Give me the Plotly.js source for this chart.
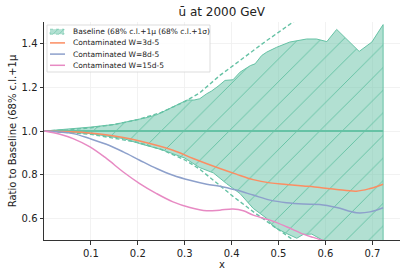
<!DOCTYPE html>
<html>
<head>
<meta charset="utf-8">
<script src="https://cdn.plot.ly/plotly-3.0.1.min.js"></script>
<style>html,body{margin:0;padding:0;background:#fff;}#chart{width:407px;height:277px;}</style>
</head>
<body>
<div id="chart"></div>
<script>
// Baseline band (68% c.l. + 1mu)
const upperX = [0.001,0.05,0.1,0.15,0.19,0.22,0.241,0.26,0.275,0.294,0.305,0.32,0.332,0.347,0.357,0.371,0.386,0.403,0.418,0.44,0.45,0.464,0.475,0.496,0.524,0.56,0.581,0.603,0.624,0.672,0.699,0.723];
const upperY = [1.0,1.008,1.018,1.03,1.048,1.062,1.075,1.095,1.11,1.13,1.142,1.142,1.148,1.171,1.183,1.205,1.232,1.235,1.27,1.30,1.308,1.346,1.362,1.384,1.408,1.422,1.422,1.41,1.466,1.365,1.408,1.488];
const lowerX = [0.001,0.05,0.1,0.17,0.204,0.25,0.283,0.30,0.332,0.361,0.389,0.418,0.446,0.475,0.489,0.517,0.539,0.553,0.571,0.588,0.61,0.65,0.7,0.723];
const lowerY = [1.0,0.995,0.988,0.965,0.942,0.915,0.889,0.876,0.832,0.808,0.759,0.713,0.645,0.599,0.561,0.530,0.508,0.526,0.527,0.508,0.48,0.44,0.40,0.38];
// 68% c.l. + 1 sigma (dashed)
const sigUpX = [0.001,0.05,0.1,0.15,0.2,0.25,0.3,0.332,0.375,0.403,0.446,0.475,0.531,0.6,0.723];
const sigUpY = [1.0,1.005,1.015,1.03,1.052,1.085,1.135,1.175,1.255,1.30,1.37,1.415,1.5,1.6,1.8];
const sigLoX = [0.001,0.1,0.2,0.25,0.3,0.332,0.375,0.403,0.446,0.475,0.528,0.6,0.723];
const sigLoY = [1.0,0.985,0.948,0.915,0.868,0.825,0.75,0.70,0.63,0.585,0.505,0.4,0.2];
// Central baseline
const centralX = [0.001,0.723];
const centralY = [1.0,1.0];
// Contaminated fits
const w3X = [0.001,0.098,0.169,0.204,0.275,0.318,0.375,0.41,0.446,0.482,0.517,0.553,0.588,0.624,0.666,0.695,0.723];
const w3Y = [1.0,0.991,0.97,0.954,0.912,0.874,0.828,0.802,0.777,0.762,0.755,0.748,0.741,0.732,0.724,0.736,0.756];
const w8X = [0.001,0.062,0.098,0.133,0.169,0.204,0.24,0.275,0.311,0.347,0.375,0.41,0.446,0.482,0.517,0.553,0.588,0.624,0.666,0.695,0.723];
const w8Y = [1.0,0.988,0.965,0.939,0.904,0.866,0.828,0.797,0.774,0.756,0.747,0.729,0.706,0.683,0.671,0.665,0.663,0.649,0.625,0.629,0.648];
const w15X = [0.001,0.034,0.062,0.098,0.133,0.169,0.204,0.24,0.275,0.311,0.347,0.375,0.403,0.425,0.446,0.482,0.517,0.553,0.574,0.6,0.65,0.723];
const w15Y = [1.0,0.985,0.965,0.927,0.874,0.812,0.759,0.713,0.675,0.649,0.634,0.637,0.642,0.634,0.614,0.591,0.561,0.527,0.512,0.495,0.47,0.43];

const legendNames = ["Baseline (68% c.l.+1μ (68% c.l.+1σ)","Contaminated W=3d-5","Contaminated W=8d-5","Contaminated W=15d-5"];
const seriesColors = ['#66c2a5','#fc8d62','#8da0cb','#e78ac3'];
const green = seriesColors[0];

const bandX = upperX.concat(lowerX.slice().reverse());
const bandY = upperY.concat(lowerY.slice().reverse());

const traces = [
  {x: bandX, y: bandY, type:'scatter', mode:'lines', fill:'toself',
   fillcolor:'rgba(102,194,165,0.5)',
   fillpattern:{shape:'/', size:16, solidity:0.06, fgcolor:green, bgcolor:'rgba(102,194,165,0.5)', fgopacity:1},
   line:{color:green, width:1}, name:legendNames[0], showlegend:false},
  {x: sigUpX, y: sigUpY, type:'scatter', mode:'lines', line:{color:green, width:1.4, dash:'4px,2.5px'}, showlegend:false},
  {x: sigLoX, y: sigLoY, type:'scatter', mode:'lines', line:{color:green, width:1.4, dash:'4px,2.5px'}, showlegend:false},
  {x: centralX, y: centralY, type:'scatter', mode:'lines', line:{color:green, width:1.8}, showlegend:false},
  {x: w3X, y: w3Y, type:'scatter', mode:'lines', line:{color:seriesColors[1], width:1.5, shape:'spline'}, name:legendNames[1], showlegend:false},
  {x: w8X, y: w8Y, type:'scatter', mode:'lines', line:{color:seriesColors[2], width:1.5, shape:'spline'}, name:legendNames[2], showlegend:false},
  {x: w15X, y: w15Y, type:'scatter', mode:'lines', line:{color:seriesColors[3], width:1.5, shape:'spline'}, name:legendNames[3], showlegend:false}
];

// Compact legend (matplotlib-like), drawn in paper coordinates of the plot area
const L = 44, R = 400, T = 22, B = 240;
const px = v => (v - L) / (R - L);
const py = v => (B - v) / (B - T);
const shapes = [
  {type:'rect', xref:'paper', yref:'paper', x0:px(47), x1:px(210), y0:py(72), y1:py(25),
   fillcolor:'rgba(255,255,255,0.85)', line:{color:'#d4d4d4', width:0.8}}
];
const annotations = [];
const rowY = [31.7, 42.9, 54.1, 65.3];
legendNames.forEach((name, i) => {
  if (i === 0) {
    shapes.push({type:'rect', xref:'paper', yref:'paper', x0:px(50), x1:px(64), y0:py(rowY[i]+2.5), y1:py(rowY[i]-2.5),
      fillcolor:'rgba(102,194,165,0.5)', line:{color:green, width:0.6, dash:'dot'}});
    shapes.push({type:'line', xref:'paper', yref:'paper', x0:px(53), x1:px(58), y0:py(rowY[i]+2.5), y1:py(rowY[i]-2.5),
      line:{color:green, width:0.6}});
    shapes.push({type:'line', xref:'paper', yref:'paper', x0:px(59), x1:px(64), y0:py(rowY[i]+2.5), y1:py(rowY[i]-2.5),
      line:{color:green, width:0.6}});
  } else {
    shapes.push({type:'line', xref:'paper', yref:'paper', x0:px(50), x1:px(65), y0:py(rowY[i]), y1:py(rowY[i]),
      line:{color:seriesColors[i], width:1.5}});
  }
  annotations.push({xref:'paper', yref:'paper', x:px(71), y:py(rowY[i]), xanchor:'left', yanchor:'middle',
    text:name, showarrow:false, font:{family:'DejaVu Sans', size:7.5, color:'#222'}});
});

const axisCommon = {
  showline:true, linecolor:'#333', linewidth:1, ticks:'outside', ticklen:3.5, tickcolor:'#333',
  showgrid:true, gridcolor:'#efefef', gridwidth:0.8, zeroline:false, mirror:false,
  tickfont:{family:'DejaVu Sans', size:10, color:'#222'}
};

const layout = {
  width:407, height:277,
  margin:{l:44, r:7, t:22, b:37},
  paper_bgcolor:'#fff', plot_bgcolor:'#fff',
  font:{family:'DejaVu Sans', color:'#222'},
  title:{text:'ū at 2000 GeV', font:{family:'DejaVu Sans', size:12, color:'#222'}, x:0.545, xref:'container', xanchor:'center', y:0.957, yref:'container', yanchor:'middle'},
  xaxis:Object.assign({}, axisCommon, {range:[0.0, 0.759], tickvals:[0.1,0.2,0.3,0.4,0.5,0.6,0.7], tickformat:'.1f',
    title:{text:'x', font:{family:'DejaVu Sans', size:10, color:'#222'}, standoff:3}}),
  yaxis:Object.assign({}, axisCommon, {range:[0.5, 1.5], tickvals:[0.6,0.8,1.0,1.2,1.4], tickformat:'.1f',
    title:{text:'Ratio to Baseline (68% c.l.+1μ', font:{family:'DejaVu Sans', size:10, color:'#222'}, standoff:3}}),
  shapes: shapes,
  annotations: annotations,
  showlegend:false
};

Plotly.newPlot('chart', traces, layout, {displayModeBar:false, staticPlot:true});
</script>
</body>
</html>
